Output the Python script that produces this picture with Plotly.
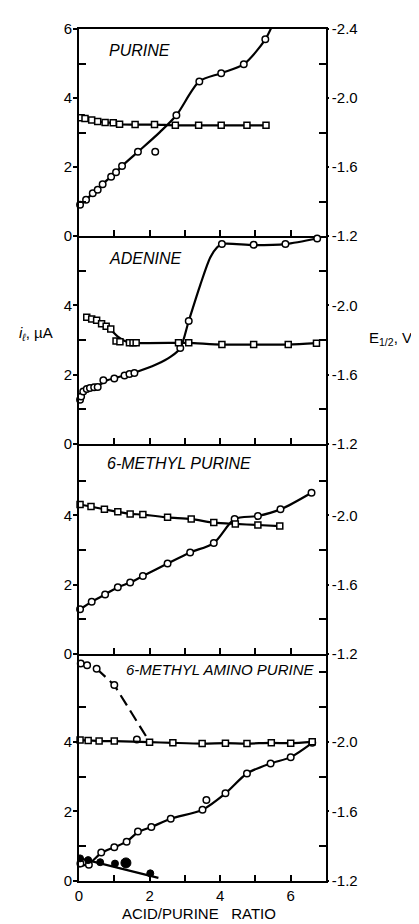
import plotly.graph_objects as go

FONT = "Liberation Sans"

# ---------------- data ----------------
# Panel 1: PURINE
p1_circ_x = [0.03, 0.2, 0.39, 0.53, 0.67, 0.91, 1.05, 1.22, 1.67, 2.76, 3.41, 4.03, 4.67, 5.28]
p1_circ_i = [0.91, 1.05, 1.24, 1.34, 1.5, 1.72, 1.85, 2.03, 2.44, 3.5, 4.48, 4.72, 4.98, 5.7]
p1_out_x = [2.16]
p1_out_i = [2.44]
p1_curve_x = [0.0, 0.2, 0.39, 0.53, 0.67, 0.91, 1.05, 1.22, 1.67, 2.3, 2.76, 3.41, 4.03, 4.67, 5.28, 5.6]
p1_curve_i = [0.88, 1.05, 1.24, 1.34, 1.5, 1.72, 1.85, 2.03, 2.44, 3.02, 3.5, 4.48, 4.72, 4.98, 5.7, 6.4]
p1_sq_x = [0.06, 0.17, 0.36, 0.53, 0.74, 0.97, 1.15, 1.59, 2.14, 2.73, 3.39, 4.03, 4.76, 5.30]
p1_sq_e = [-1.886, -1.882, -1.872, -1.864, -1.858, -1.856, -1.848, -1.846, -1.846, -1.842,
           -1.842, -1.842, -1.842, -1.842]

# Panel 2: ADENINE
p2_circ_x = [0.03, 0.06, 0.12, 0.22, 0.31, 0.43, 0.53, 0.69, 1.0, 1.29, 1.43, 1.57, 2.87, 3.11,
             4.05, 4.95, 5.85, 6.75]
p2_circ_i = [1.28, 1.37, 1.52, 1.59, 1.62, 1.64, 1.65, 1.84, 1.89, 1.98, 2.02, 2.05, 2.77, 3.55,
             5.77, 5.75, 5.77, 5.93]
p2_curve_x = [0.0, 0.06, 0.12, 0.22, 0.31, 0.43, 0.6, 0.8, 1.0, 1.29, 1.57, 2.2, 2.6, 2.87, 3.11,
              3.44, 3.72, 3.91, 4.05, 4.95, 5.85, 6.75]
p2_curve_i = [1.2, 1.37, 1.5, 1.58, 1.62, 1.65, 1.72, 1.84, 1.9, 1.98, 2.06, 2.3, 2.52, 2.77, 3.55,
              4.6, 5.38, 5.67, 5.77, 5.74, 5.77, 5.93]
p2_sq_x = [0.22, 0.36, 0.5, 0.64, 0.77, 0.9, 1.05, 1.16, 1.43, 1.53, 1.62, 2.82, 3.11, 4.05, 4.95,
           5.93, 6.73]
p2_sq_e = [-1.932, -1.922, -1.914, -1.894, -1.880, -1.864, -1.794, -1.790, -1.784, -1.784, -1.784,
           -1.784, -1.784, -1.774, -1.774, -1.774, -1.782]
p2_sq_curve_x = [0.22, 0.5, 0.77, 0.9, 1.1, 1.35, 1.6, 2.82, 3.11, 4.05, 4.95, 5.93, 6.73]
p2_sq_curve_e = [-1.932, -1.914, -1.880, -1.86, -1.82, -1.79, -1.784, -1.784, -1.784, -1.774,
                 -1.774, -1.774, -1.782]

# Panel 3: 6-METHYL PURINE
p3_circ_x = [0.03, 0.36, 0.74, 1.1, 1.45, 1.81, 2.51, 3.15, 3.82, 4.41, 5.07, 5.71, 6.59]
p3_circ_i = [1.29, 1.51, 1.72, 1.93, 2.06, 2.25, 2.61, 2.93, 3.2, 3.89, 3.98, 4.17, 4.65]
p3_sq_x = [0.03, 0.34, 0.72, 1.1, 1.45, 1.81, 2.51, 3.18, 3.82, 4.43, 5.07, 5.69]
p3_sq_e = [-2.062, -2.05, -2.034, -2.02, -2.008, -2.004, -1.988, -1.978, -1.958, -1.95, -1.944,
           -1.938]

# Panel 4: 6-METHYL AMINO PURINE
p4_circ_x = [0.04, 0.28, 0.63, 1.0, 1.35, 1.67, 2.05, 2.6, 3.5, 4.15, 4.76, 5.43, 6.0, 6.61]
p4_circ_i = [0.5, 0.47, 0.82, 0.97, 1.13, 1.42, 1.55, 1.79, 2.05, 2.52, 3.09, 3.38, 3.56, 3.97]
p4_out_x = [3.61]
p4_out_i = [2.33]
p4_curve_x = [0.0, 0.28, 0.63, 1.0, 1.35, 1.67, 2.05, 2.6, 3.5, 4.15, 4.76, 5.43, 6.0, 6.61]
p4_curve_i = [0.42, 0.5, 0.8, 0.97, 1.13, 1.4, 1.55, 1.79, 2.05, 2.52, 3.09, 3.38, 3.56, 3.97]
p4_fill_x = [0.03, 0.26, 0.6, 1.02, 1.33, 2.02]
p4_fill_i = [0.65, 0.6, 0.54, 0.5, 0.52, 0.22]
p4_fill_size = [7, 7, 7, 7, 10, 7]
p4_fill_line_x = [0.0, 2.25]
p4_fill_line_i = [0.66, 0.09]
p4_top_x = [0.05, 0.23, 0.5, 1.0, 1.64]
p4_top_i = [6.25, 6.2, 6.1, 5.63, 4.07]
p4_dash_x = [0.5, 1.0, 1.95]
p4_dash_i = [6.1, 5.63, 4.08]
p4_sq_x = [0.03, 0.26, 0.57, 1.0, 2.0, 2.66, 3.49, 4.15, 4.76, 5.45, 6.0, 6.61]
p4_sq_e = [-2.01, -2.008, -2.004, -2.004, -1.998, -1.994, -1.99, -1.992, -1.99, -1.994, -1.992,
           -2.0]

panel_names = ["PURINE", "ADENINE", "6-METHYL PURINE", "6-METHYL AMINO PURINE"]
left_ranges = [[0, 6], [0, 6], [0, 6.05], [0, 6.52]]
right_ranges = [[-1.2, -2.4], [-1.2, -2.4], [-1.2, -2.41], [-1.2, -2.504]]
left_tickvals = [[0, 2, 4, 6], [0, 2, 4], [0, 2, 4], [0, 2, 4]]
right_tickvals = [[-2.4, -2.0, -1.6, -1.2], [-2.0, -1.6, -1.2], [-2.0, -1.6, -1.2],
                  [-2.0, -1.6, -1.2]]
right_ticktext = [["-2.4", "-2.0", "-1.6", "-1.2"], ["-2.0", "-1.6", "-1.2"],
                  ["-2.0", "-1.6", "-1.2"], ["-2.0", "-1.6", "-1.2"]]
right_minor = [[-2.2, -1.8, -1.4], [-2.2, -1.8, -1.4], [-2.2, -1.8, -1.4],
               [-2.4, -2.2, -1.8, -1.4]]
x_ticks = [1, 2, 3, 4, 5, 6]
x_labels = [0, 2, 4, 6]

# ---------------- geometry ----------------
# page has an 8px body margin; figure coordinates = page coordinates - 8
OFF = 8
W, H = 419 - OFF, 924 - OFF
ML, MR, MT, MB = 79 - OFF, 93, 21 - OFF, 43
panel_px = [(21, 230), (230, 440), (440, 652), (652, 881)]  # page px
plot_h = H - MT - MB
plot_w = W - ML - MR


def frac(py):
    return (H - MB - (py - OFF)) / plot_h


def xpaper(px):
    return (px - OFF - ML) / plot_w


domains = [[frac(b), frac(t)] for t, b in panel_px]

fig = go.Figure()

BLACK = "black"
LW = 2.2


def add_line(x, y, k, right=False, dash="solid", shape="spline"):
    fig.add_trace(go.Scatter(x=x, y=y, mode="lines", xaxis=f"x{k}",
                             yaxis=f"y{k + 4}" if right else f"y{k}",
                             line=dict(color=BLACK, width=LW, dash=dash, shape=shape,
                                       smoothing=0.8),
                             showlegend=False, hoverinfo="skip"))


def add_marks(x, y, k, symbol="circle", right=False, fill="white", size=6.5):
    fig.add_trace(go.Scatter(x=x, y=y, mode="markers", xaxis=f"x{k}",
                             yaxis=f"y{k + 4}" if right else f"y{k}",
                             marker=dict(symbol=symbol, size=size, color=fill, opacity=1,
                                         line=dict(color=BLACK, width=1.5)),
                             cliponaxis=False, showlegend=False))


# Panel 1
add_line(p1_curve_x, p1_curve_i, 1)
add_line(p1_sq_x, p1_sq_e, 1, right=True)
add_marks(p1_sq_x, p1_sq_e, 1, symbol="square", right=True, size=6)
add_marks(p1_circ_x, p1_circ_i, 1)
add_marks(p1_out_x, p1_out_i, 1)

# Panel 2
add_line(p2_curve_x, p2_curve_i, 2)
add_line(p2_sq_curve_x, p2_sq_curve_e, 2, right=True)
add_marks(p2_sq_x, p2_sq_e, 2, symbol="square", right=True, size=6)
add_marks(p2_circ_x, p2_circ_i, 2)

# Panel 3
add_line(p3_circ_x, p3_circ_i, 3)
add_line(p3_sq_x, p3_sq_e, 3, right=True)
add_marks(p3_sq_x, p3_sq_e, 3, symbol="square", right=True, size=6)
add_marks(p3_circ_x, p3_circ_i, 3)

# Panel 4
add_line(p4_curve_x, p4_curve_i, 4)
add_line(p4_fill_line_x, p4_fill_line_i, 4, shape="linear")
add_line(p4_dash_x, p4_dash_i, 4, dash="12px,6px", shape="linear")
add_line(p4_sq_x, p4_sq_e, 4, right=True)
add_marks(p4_sq_x, p4_sq_e, 4, symbol="square", right=True, size=6)
add_marks(p4_circ_x, p4_circ_i, 4)
add_marks(p4_out_x, p4_out_i, 4)
add_marks(p4_top_x, p4_top_i, 4)
fig.add_trace(go.Scatter(x=p4_fill_x, y=p4_fill_i, mode="markers", xaxis="x4", yaxis="y4",
                         marker=dict(symbol="circle", size=p4_fill_size, color=BLACK, opacity=1,
                                     line=dict(color=BLACK, width=1)),
                         showlegend=False))

tickfont = dict(family=FONT, size=15, color=BLACK)
layout = dict(
    width=W, height=H,
    margin=dict(l=ML, r=MR, t=MT, b=MB, pad=0),
    paper_bgcolor="white", plot_bgcolor="white",
    showlegend=False,
    font=dict(family=FONT, color=BLACK),
)

for k in range(1, 5):
    last = k == 4
    xa = dict(
        domain=[0, 1], anchor=f"y{k}", range=[0, 7],
        showline=True, mirror=(k == 1), linecolor=BLACK, linewidth=1.6,
        showgrid=False, zeroline=False,
        tickmode="array",
        tickvals=x_labels if last else x_ticks,
        showticklabels=last,
        ticks="inside", ticklen=6, tickwidth=1.5, tickcolor=BLACK,
        tickfont=tickfont,
    )
    if last:
        xa["ticktext"] = [str(v) for v in x_labels]
        xa["minor"] = dict(tickmode="array", tickvals=[1, 3, 5], ticks="inside", ticklen=6,
                           tickwidth=1.5, tickcolor=BLACK)
    layout[f"xaxis{k}"] = xa
    layout[f"yaxis{k}"] = dict(
        domain=domains[k - 1], anchor=f"x{k}", range=left_ranges[k - 1],
        showline=True, linecolor=BLACK, linewidth=1.6,
        showgrid=False, zeroline=False,
        tickmode="array", tickvals=left_tickvals[k - 1],
        ticktext=[str(v) for v in left_tickvals[k - 1]],
        ticks="outside", ticklen=4, tickwidth=1.5, tickcolor=BLACK,
        ticklabelstandoff=-2,
        tickfont=tickfont,
        minor=dict(tickmode="array", tickvals=[1, 3, 5], ticks="inside", ticklen=7,
                   tickwidth=1.5, tickcolor=BLACK),
    )
    layout[f"yaxis{k + 4}"] = dict(
        overlaying=f"y{k}", side="right", anchor=f"x{k}", range=right_ranges[k - 1],
        showline=True, linecolor=BLACK, linewidth=1.6,
        showgrid=False, zeroline=False,
        tickmode="array", tickvals=right_tickvals[k - 1],
        ticktext=right_ticktext[k - 1],
        ticks="outside", ticklen=1, tickwidth=1.5, tickcolor=BLACK,
        tickfont=tickfont,
        minor=dict(tickmode="array", tickvals=right_minor[k - 1], ticks="inside", ticklen=7,
                   tickwidth=1.5, tickcolor=BLACK),
    )

fig.update_layout(**layout)

label_pos = [(107, 43, 16), (107, 253, 16), (105, 460, 16), (124, 668, 15)]
for name, (px, py, fs) in zip(panel_names, label_pos):
    fig.add_annotation(text=f"<i>{name}</i>", xref="paper", yref="paper",
                       x=xpaper(px), y=frac(py), xanchor="left", yanchor="middle",
                       showarrow=False, font=dict(family=FONT, size=fs, color=BLACK))

fig.add_annotation(text="<i>i</i><sub><i>ℓ</i></sub>, µA", xref="paper", yref="paper",
                   x=xpaper(36), y=frac(328), xanchor="center", yanchor="middle",
                   showarrow=False, font=dict(family=FONT, size=15, color=BLACK))
fig.add_annotation(text="E<sub>1/2</sub>, V", xref="paper", yref="paper",
                   x=xpaper(390), y=frac(333), xanchor="center", yanchor="middle",
                   showarrow=False, font=dict(family=FONT, size=15, color=BLACK))
fig.add_annotation(text="ACID/PURINE&nbsp;&nbsp;&nbsp;RATIO", xref="paper", yref="paper",
                   x=xpaper(199), y=frac(914), xanchor="center", yanchor="middle",
                   showarrow=False, font=dict(family=FONT, size=15, color=BLACK))

fig.write_html("out.html")
